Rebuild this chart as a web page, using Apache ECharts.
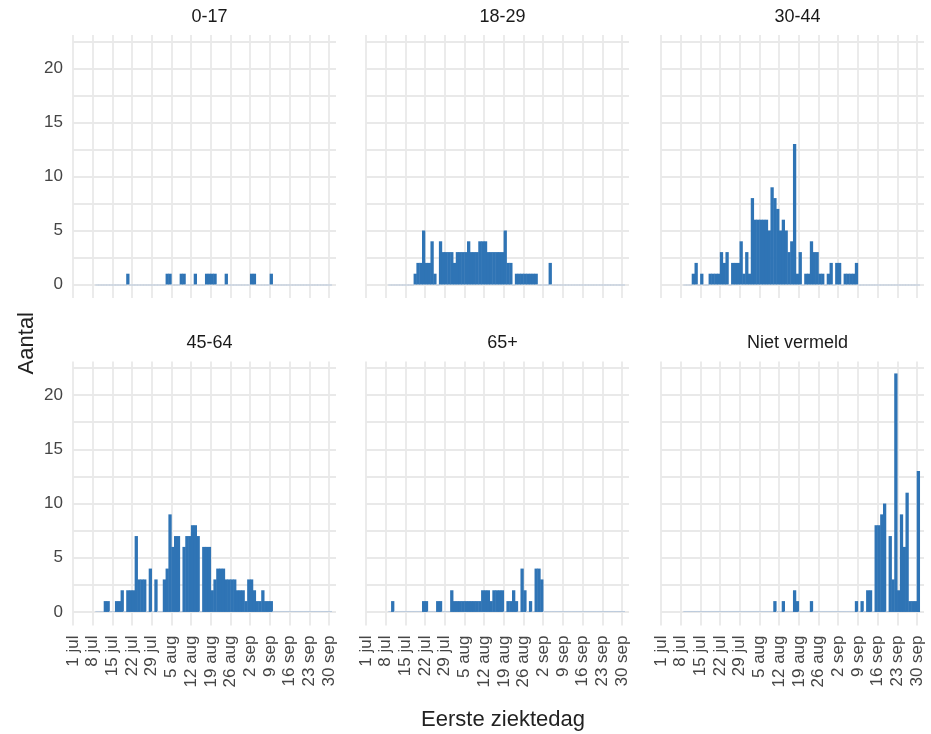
<!DOCTYPE html>
<html><head><meta charset="utf-8">
<script src="https://cdn.jsdelivr.net/npm/echarts@6/dist/echarts.min.js"></script>
<style>html,body{margin:0;padding:0;background:#fff}#c{width:931px;height:734px}</style>
</head><body><div id="c"></div>
<script>
// Facet titles (age groups)
const panelTitles = ['0-17', '18-29', '30-44', '45-64', '65+', 'Niet vermeld'];
// Tick labels on the date axis, one per week starting at 1 jul (day 0)
const tickLabels = ['1 jul','8 jul','15 jul','22 jul','29 jul','5 aug','12 aug','19 aug','26 aug','2 sep','9 sep','16 sep','23 sep','30 sep'];
// First day in the series, counted in days after 1 jul (8 = 9 jul); one value per day
const firstDay = 8;
const yTickLabels = [0, 5, 10, 15, 20];

// Daily counts (days 9 jul .. 30 sep), one row per week
const age0_17 = [
  0,0,0,0,0,0,0,
  0,0,0,0,1,0,0,
  0,0,0,0,0,0,0,
  0,0,0,0,1,1,0,
  0,0,1,1,0,0,0,
  1,0,0,0,1,1,1,
  1,0,0,0,1,0,0,
  0,0,0,0,0,0,1,
  1,0,0,0,0,0,1,
  0,0,0,0,0,0,0,
  0,0,0,0,0,0,0,
  0,0,0,0,0,0,0];
const age18_29 = [
  0,0,0,0,0,0,0,
  0,0,1,2,2,5,2,
  2,4,1,0,4,3,3,
  3,3,2,3,3,3,3,
  4,3,3,3,4,4,4,
  3,3,3,3,3,3,5,
  2,2,0,1,1,1,1,
  1,1,1,1,0,0,0,
  0,2,0,0,0,0,0,
  0,0,0,0,0,0,0,
  0,0,0,0,0,0,0,
  0,0,0,0,0,0,0];
const age30_44 = [
  0,0,0,1,2,0,1,
  0,0,1,1,1,1,3,
  2,3,0,2,2,2,4,
  1,3,1,8,6,6,6,
  6,6,5,9,8,7,5,
  6,5,3,4,13,1,3,
  0,1,1,4,3,3,1,
  1,0,1,2,0,2,2,
  0,1,1,1,1,2,0,
  0,0,0,0,0,0,0,
  0,0,0,0,0,0,0,
  0,0,0,0,0,0,0];
const age45_64 = [
  0,0,0,1,1,0,0,
  1,1,2,0,2,2,2,
  7,3,3,3,0,4,0,
  3,0,0,3,4,9,6,
  7,7,0,6,7,7,8,
  8,7,0,6,6,6,2,
  3,4,4,4,3,3,3,
  3,2,2,2,1,3,3,
  2,1,1,2,1,1,1,
  0,0,0,0,0,0,0,
  0,0,0,0,0,0,0,
  0,0,0,0,0,0,0];
const age65plus = [
  0,1,0,0,0,0,0,
  0,0,0,0,0,1,1,
  0,0,0,1,1,0,0,
  0,2,1,1,1,1,1,
  1,1,1,1,1,2,2,
  2,1,2,2,2,2,0,
  1,1,2,1,0,4,2,
  0,1,0,4,4,3,0,
  0,0,0,0,0,0,0,
  0,0,0,0,0,0,0,
  0,0,0,0,0,0,0,
  0,0,0,0,0,0,0];
const ageUnknown = [
  0,0,0,0,0,0,0,
  0,0,0,0,0,0,0,
  0,0,0,0,0,0,0,
  0,0,0,0,0,0,0,
  0,0,0,0,1,0,0,
  1,0,0,0,2,1,0,
  0,0,0,1,0,0,0,
  0,0,0,0,0,0,0,
  0,0,0,0,0,1,0,
  1,0,2,2,0,8,8,
  9,10,0,7,3,22,2,
  9,6,11,1,1,1,13];
const panelValues = [age0_17, age18_29, age30_44, age45_64, age65plus, ageUnknown];

const barColor = '#2f74b5';
const zeroColor = '#bccbdd';
const gridColor = '#e9e9e9';
const font = 'Liberation Sans, Arial, sans-serif';

const colLeft = [73, 366, 661];
const colWidth = 263;
const rowTop = [35, 361.5];
const rowHeight = [263, 264];

const grids = [], xAxes = [], yAxes = [], series = [], titles = [];
panelTitles.forEach((name, i) => {
  const r = Math.floor(i / 3), c = i % 3;
  grids.push({left: colLeft[c], top: rowTop[r], width: colWidth, height: rowHeight[r], containLabel: false, outerBoundsMode: 'none'});
  xAxes.push({
    type: 'value', gridIndex: i, min: 0, max: 93.5, interval: 3.5,
    axisLine: {show: false}, axisTick: {show: false},
    axisLabel: {
      show: r === 1, rotate: 90, margin: 10, fontSize: 17, color: '#454545', fontFamily: font,
      formatter: v => (Math.abs(v % 7) < 1e-6 ? tickLabels[Math.round(v / 7)] : '')
    },
    splitLine: {show: true, lineStyle: {color: [gridColor, 'rgba(0,0,0,0)'], width: 1.8}}
  });
  yAxes.push({
    type: 'value', gridIndex: i, min: -1.25, max: 23.1, interval: 1.25,
    axisLine: {show: false}, axisTick: {show: false},
    axisLabel: {
      show: c === 0, margin: 10, fontSize: 17, color: '#454545', fontFamily: font,
      formatter: v => { const n = Math.round(v * 100) / 100; return yTickLabels.indexOf(n) >= 0 ? String(n) : ''; }
    },
    splitLine: {show: true, lineStyle: {color: ['rgba(0,0,0,0)', gridColor], width: 1.8}}
  });
  series.push({
    type: 'bar', xAxisIndex: i, yAxisIndex: i, barWidth: 3.3, barMinHeight: 1,
    animation: false,
    data: panelValues[i].map((v, k) => ({
      value: [firstDay + k + 0.5, v],
      itemStyle: {color: v === 0 ? zeroColor : barColor}
    }))
  });
  titles.push({
    text: name, left: colLeft[c] + colWidth / 2, top: rowTop[r] - 32, textAlign: 'center',
    textStyle: {fontSize: 18, fontWeight: 'normal', color: '#1a1a1a', fontFamily: font}
  });
});
titles.push({
  text: 'Eerste ziektedag', left: 498, top: 704, textAlign: 'center',
  textStyle: {fontSize: 22, fontWeight: 'normal', color: '#222', fontFamily: font}
});

const chart = echarts.init(document.getElementById('c'), null, {renderer: 'canvas'});
chart.setOption({
  backgroundColor: '#ffffff',
  animation: false,
  title: titles,
  grid: grids,
  xAxis: xAxes,
  yAxis: yAxes,
  series: series,
  graphic: [{
    type: 'text', left: 16, top: 312, rotation: Math.PI / 2,
    style: {text: 'Aantal', fontSize: 22, fill: '#222', fontFamily: font}
  }]
});
</script></body></html>
